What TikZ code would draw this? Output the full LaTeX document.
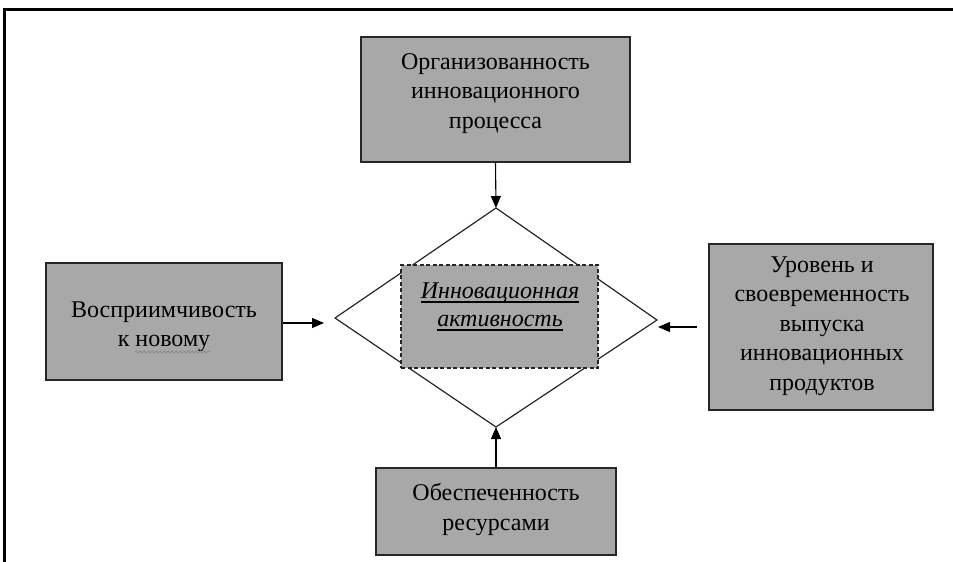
\documentclass[tikz,border=0pt]{standalone}
\usepackage{fontspec}
\setmainfont{Liberation Serif}
\usetikzlibrary{arrows.meta,decorations.pathmorphing,calc}
\definecolor{boxgray}{HTML}{A8A8A8}
\begin{document}
\begin{tikzpicture}[x=1pt,y=-1pt,
  box/.style={draw=black!85, line width=1.3pt, fill=boxgray, inner sep=0pt},
  btext/.style={align=center, font=\fontsize{24}{29.5}\selectfont, inner sep=0pt},
  dashbox/.style={draw=black!85, line width=1.2pt, fill=boxgray, dashed,
    dash pattern=on 4pt off 2.5pt, inner sep=0pt},
  ctext/.style={font=\fontsize{24}{28}\selectfont\itshape, inner sep=0pt, anchor=base},
  uline/.style={line width=1.3pt},
  arr/.style={-{Stealth[length=12pt,width=10pt,inset=0pt]}, line width=1.1pt},
  diam/.style={draw=black!85, line width=1.2pt}]
\useasboundingbox (0,0) rectangle (953,562);
% frame
\draw[line width=3pt] (4,562) -- (4,9) -- (953,9);
% diamond
\coordinate (dT) at (496,208);
\coordinate (dL) at (335,318);
\coordinate (dR) at (657,320);
\coordinate (dB) at (496,427);
\draw[diam] (dT) -- (dR) -- (dB) -- (dL) -- cycle;
% central box
\node[dashbox, minimum width=197, minimum height=103] (c) at (499.5,316.5) {};
\node[ctext] (ct1) at (500,298) {Инновационная};
\node[ctext] (ct2) at (500,326) {активность};
\draw[uline] ($(ct1.base west)+(0,4)$) -- ($(ct1.base east)+(0,4)$);
\draw[uline] ($(ct2.base west)+(0,4)$) -- ($(ct2.base east)+(0,4)$);
% outer boxes
\node[box, minimum width=269, minimum height=125] (top) at (495.5,99.5) {};
\node[btext] (topt) at (495.5,93.5) {Организованность\\инновационного\\процесса};
\node[box, minimum width=236, minimum height=117] (left) at (164,321.5) {};
\node[btext] (leftt) at (164,326.5) {Восприимчивость\\к новому};
\node[box, minimum width=224, minimum height=166] (right) at (821,327) {};
\node[btext] (rightt) at (822,326) {Уровень и\\своевременность\\выпуска\\инновационных\\продуктов};
\node[box, minimum width=240, minimum height=87] (bot) at (496,511.5) {};
\node[btext] (bott) at (496,509.5) {Обеспеченность\\ресурсами};
% spell-check wave
\draw[gray!90, line width=0.9pt, decorate, decoration={snake, amplitude=1.1pt, segment length=4pt}]
  (135,352) -- (210,352);
% arrows
\coordinate (la) at (324,323);
\coordinate (rs) at (697,327);
\coordinate (ra) at (658,327);
\draw[arr] (top.south) -- (dT);
\draw[arr] (left.east |- la) -- (la);
\draw[arr] (rs) -- (ra);
\draw[arr] (bot.north) -- (dB);
\end{tikzpicture}
\end{document}
